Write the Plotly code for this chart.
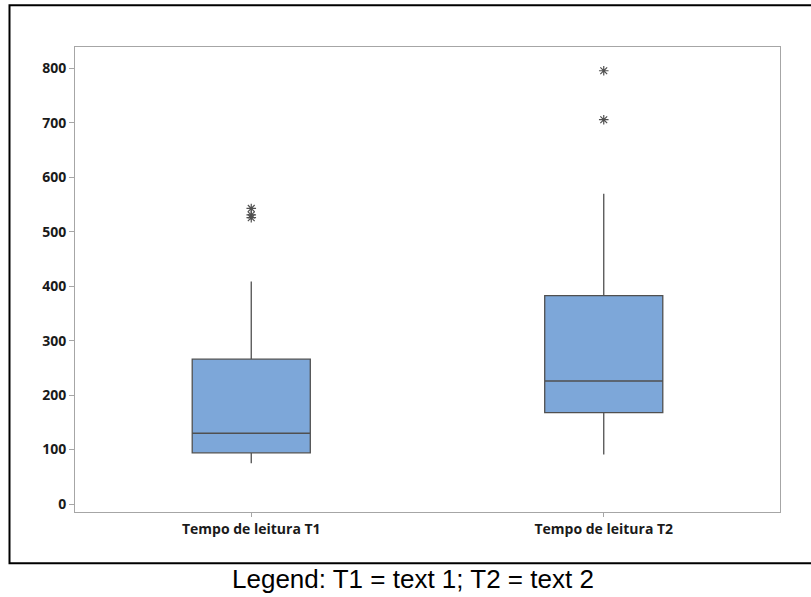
import plotly.graph_objects as go

categories = ["Tempo de leitura T1", "Tempo de leitura T2"]
q1 = [94, 168]
median = [130, 226]
q3 = [266, 383]
lower_whisker = [75, 91]
upper_whisker = [409, 570]
outlier_cat = ["Tempo de leitura T1", "Tempo de leitura T1", "Tempo de leitura T1",
               "Tempo de leitura T2", "Tempo de leitura T2"]
outlier_val = [543, 531, 526, 796, 706]
y_ticks = [0, 100, 200, 300, 400, 500, 600, 700, 800]
caption = "Legend: T1 = text 1; T2 = text 2"

W, H = 811, 597
L, R, T, B = 75, 780, 46.7, 511.7


def px_x(p):
    return (p - L) / (R - L)


def px_y(p):
    return (B - p) / (B - T)


tick_font = dict(family="Open Sans, Noto Sans, sans-serif", size=14,
                 weight="bold", color="#1a1a1a")

fig = go.Figure()
fig.add_trace(go.Box(
    x=categories, q1=q1, median=median, q3=q3,
    lowerfence=lower_whisker, upperfence=upper_whisker,
    boxpoints=False, width=0.335, whiskerwidth=0,
    fillcolor="#7DA7D9",
    line=dict(color="#505050", width=1.3),
    hoverinfo="skip", showlegend=False,
))
fig.add_trace(go.Scatter(
    x=outlier_cat, y=outlier_val, mode="markers",
    marker=dict(symbol="asterisk-open", size=8, color="#505050",
                line=dict(color="#505050", width=1.2)),
    showlegend=False, hoverinfo="skip",
))

fig.update_layout(
    width=W, height=H,
    margin=dict(l=L, r=W - R, t=T, b=H - B, pad=0),
    paper_bgcolor="white", plot_bgcolor="white",
    font=dict(family="Open Sans, Noto Sans, sans-serif", color="#000000"),
    xaxis=dict(
        type="category", range=[-0.5, 1.5],
        showgrid=False, zeroline=False,
        showline=True, linecolor="#a6a6a6", linewidth=1, mirror=True,
        ticks="outside", ticklen=4, tickcolor="#a6a6a6",
        tickfont=tick_font,
    ),
    yaxis=dict(
        range=[-14.7, 839.6],
        tickvals=y_ticks,
        showgrid=False, zeroline=False,
        showline=True, linecolor="#a6a6a6", linewidth=1, mirror=True,
        ticks="outside", ticklen=5, tickcolor="#a6a6a6",
        tickfont=tick_font,
    ),
    shapes=[dict(
        type="rect", xref="paper", yref="paper",
        x0=px_x(9.5), x1=px_x(813), y0=px_y(563), y1=px_y(5),
        line=dict(color="black", width=2), fillcolor="rgba(0,0,0,0)",
        layer="above",
    )],
    annotations=[dict(
        text=caption, xref="paper", yref="paper",
        x=px_x(413), y=px_y(579), xanchor="center", yanchor="middle",
        showarrow=False,
        font=dict(family="Liberation Sans, Arial, sans-serif", size=26, color="black"),
    )],
)

fig.write_html(
    "out.html",
    config={"displayModeBar": False},
    post_script="document.body.style.margin='0';document.body.style.overflow='hidden';",
)
